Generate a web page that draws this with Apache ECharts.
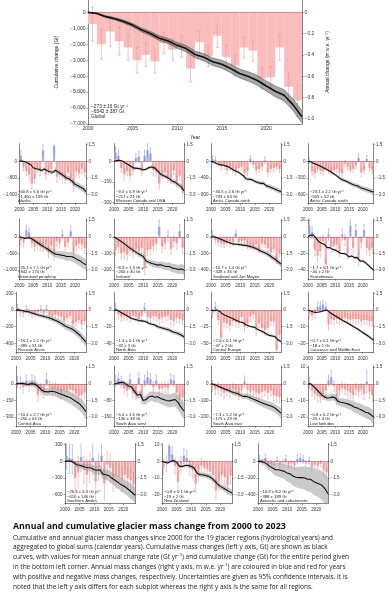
<!DOCTYPE html>
<html><head><meta charset="utf-8">
<script src="https://cdn.jsdelivr.net/npm/echarts@6/dist/echarts.min.js"></script>
<style>html,body{margin:0;padding:0;background:#fff}#c{width:388px;height:593px}</style>
</head><body><div id="c"></div><script>
// ---------------- DATA ----------------
const years = [2000,2001,2002,2003,2004,2005,2006,2007,2008,2009,2010,2011,2012,2013,2014,2015,2016,2017,2018,2019,2020,2021,2022,2023];
const cumYears = [2000,2001,2002,2003,2004,2005,2006,2007,2008,2009,2010,2011,2012,2013,2014,2015,2016,2017,2018,2019,2020,2021,2022,2023,2024];
const xTickYears = [2000,2005,2010,2015,2020];
const rightTicks = [1.5,0,-1.5,-3.0];
const globalLeftTicks = [0,-1000,-2000,-3000,-4000,-5000,-6000,-7000];
const globalRightTicks = [0,-0.2,-0.4,-0.6,-0.8,-1.0];

const globalBars = [-0.11,-0.30,-0.18,-0.27,-0.33,-0.45,-0.40,-0.46,-0.29,-0.35,-0.32,-0.53,-0.28,-0.41,-0.22,-0.42,-0.50,-0.33,-0.36,-0.62,-0.61,-0.33,-0.70,-0.83];
const globalErr = [0.16,0.14,0.14,0.13,0.12,0.12,0.11,0.11,0.10,0.10,0.10,0.12,0.10,0.10,0.11,0.11,0.10,0.10,0.10,0.10,0.10,0.12,0.13,0.15];
const globalCum = [0,-70,-270,-400,-580,-800,-1100,-1330,-1620,-1800,-2070,-2270,-2640,-2820,-3100,-3250,-3520,-3830,-4020,-4270,-4620,-4950,-5200,-5800,-6542];
const globalBand = [0,30,50,70,88,105,120,135,150,165,180,195,210,224,238,252,266,280,294,308,322,337,352,370,387];
const globalTexts = ['\u2212273 \u00b1 16 Gt yr\u207b\u00b9','\u22126542 \u00b1 387 Gt','Global'];

const regionNames = ['Alaska','Western Canada and USA','Arctic Canada north','Arctic Canada south',
 'Greenland periphery','Iceland','Svalbard and Jan Mayen','Scandinavia',
 'Russian Arctic','North Asia','Central Europe','Caucasus and Middle East',
 'Central Asia','South Asia west','South Asia east','Low latitudes',
 'Southern Andes','New Zealand','Antarctic and subantarctic'];
const regionRates = ['\u221260.8 \u00b1 6.6','\u22129.0 \u00b1 0.9','\u221230.5 \u00b1 2.6','\u221223.1 \u00b1 2.1',
 '\u221235.1 \u00b1 7.1','\u22128.3 \u00b1 1.3','\u221213.7 \u00b1 1.4','\u22121.7 \u00b1 0.1',
 '\u221216.1 \u00b1 2.1','\u22121.3 \u00b1 0.1','\u22122.0 \u00b1 0.1','\u22120.7 \u00b1 0.1',
 '\u221210.4 \u00b1 2.7','\u22125.4 \u00b1 1.6','\u22127.3 \u00b1 1.2','\u22120.8 \u00b1 0.2',
 '\u221226.3 \u00b1 6.5','\u22120.8 \u00b1 0.1','\u221216.9 \u00b1 8.2'];
const regionTotals = ['\u22121,460 \u00b1 159','\u2212217 \u00b1 21','\u2212733 \u00b1 63','\u2212555 \u00b1 52',
 '\u2212842 \u00b1 170','\u2212200 \u00b1 30','\u2212328 \u00b1 35','\u221240 \u00b1 2',
 '\u2212385 \u00b1 51','\u221232 \u00b1 3','\u221247 \u00b1 2','\u221218 \u00b1 1',
 '\u2212250 \u00b1 65','\u2212130 \u00b1 38','\u2212175 \u00b1 29','\u221220 \u00b1 4',
 '\u2212610 \u00b1 146','\u221219 \u00b1 2','\u2212388 \u00b1 189'];
const regionLeftTicks = [[0,-800,-1600],[0,-150,-300],[0,-400,-800],[0,-300,-600],
 [0,-500,-1000],[0,-100,-200],[0,-200,-400],[20,0,-20,-40],
 [200,0,-200,-400],[0,-20,-40],[0,-25,-50],[0,-10,-20],
 [0,-150,-300],[0,-80,-160],[0,-100,-200],[10,0,-10,-20],
 [300,0,-300,-600],[10,0,-10,-20],[0,-200,-400]];

const alaskaBars = [0.5,-0.5,-0.9,-1.2,-2.0,-1.6,-0.6,-0.9,1.0,-1.2,-0.8,-0.7,1.4,-1.4,-1.2,-1.4,-1.6,-1.0,-1.5,-2.2,-0.9,-1.1,-0.7,-1.0];
const alaskaErr = [0.5,0.4,0.4,0.5,0.5,0.4,0.4,0.4,0.5,0.4,0.4,0.4,0.6,0.5,0.4,0.4,0.4,0.4,0.4,0.5,0.4,0.4,0.4,0.4];
const alaskaCum = [0,10,-20,-80,-150,-310,-360,-380,-440,-370,-450,-500,-530,-430,-520,-610,-700,-800,-850,-950,-1100,-1160,-1250,-1310,-1460];
const alaskaBand = [0,15,25,35,42,50,57,63,70,75,80,86,92,97,102,108,114,119,125,131,137,142,148,153,159];

const wcanBars = [0.8,0.5,-0.6,-1.2,-0.9,-1.3,-0.8,0.3,0.4,-0.9,0.5,1.0,0.7,-0.8,-1.0,-2.0,-1.2,-1.0,-1.4,-1.6,-0.8,-1.8,-1.3,-2.6];
const wcanErr = [0.5,0.5,0.4,0.5,0.4,0.5,0.4,0.4,0.5,0.4,0.5,0.6,0.5,0.5,0.4,0.5,0.4,0.4,0.5,0.4,0.4,0.5,0.4,0.5];
const wcanCum = [0,5,8,0,-15,-25,-40,-50,-52,-55,-62,-58,-45,-42,-50,-70,-95,-105,-115,-128,-145,-152,-170,-185,-217];
const wcanBand = [0,2,3,4,5,6,7,8,8,9,10,11,11,12,13,14,14,15,16,17,17,18,19,20,21];

const acnBars = [0.2,0.1,-0.3,-0.5,-0.4,-0.8,-0.5,-0.7,-0.9,-0.6,-0.5,-1.1,-0.9,0.2,-0.3,-0.8,-0.7,-0.5,0.1,-1.0,-0.7,-0.6,-0.5,-0.7];
const acnErr = [0.3,0.3,0.25,0.3,0.3,0.35,0.3,0.3,0.35,0.3,0.3,0.35,0.35,0.3,0.3,0.3,0.3,0.3,0.3,0.35,0.3,0.3,0.3,0.3];
const acnCum = [0,-20,-60,-80,-90,-110,-130,-180,-220,-250,-290,-340,-420,-430,-440,-480,-510,-530,-530,-590,-610,-640,-670,-700,-733];
const acnBand = [0,6,10,13,16,19,22,24,27,29,31,33,36,38,40,42,44,46,48,51,53,55,58,60,63];

const acsBars = [0.1,-0.9,-1.1,-0.7,-0.8,-0.9,-0.6,-0.8,-0.9,-0.8,-0.7,-1.0,-1.1,-0.2,-0.5,-0.8,-0.7,-0.4,0.3,-1.0,-0.8,0.2,-0.6,-0.8];
const acsErr = [0.3,0.35,0.35,0.3,0.3,0.3,0.3,0.3,0.3,0.3,0.3,0.35,0.35,0.3,0.3,0.3,0.3,0.3,0.35,0.35,0.3,0.3,0.3,0.3];
const acsCum = [0,-10,-35,-55,-75,-100,-125,-150,-180,-210,-245,-280,-320,-340,-360,-385,-410,-430,-440,-470,-490,-505,-520,-540,-555];
const acsBand = [0,5,8,11,13,16,18,20,22,24,26,28,30,31,33,35,37,39,40,42,44,46,48,50,52];

const greenBars = [-0.3,-0.5,0.6,0.4,-0.6,-0.9,-0.7,-0.8,-0.9,-0.7,-1.4,-0.8,-1.6,-0.4,-0.6,0.2,-0.9,-0.5,0.5,-1.4,-0.8,-0.6,-0.7,-1.0];
const greenErr = [0.4,0.4,0.45,0.4,0.4,0.4,0.4,0.45,0.4,0.4,0.5,0.4,0.5,0.4,0.4,0.4,0.4,0.4,0.45,0.5,0.4,0.4,0.4,0.5];
const greenCum = [0,-20,-50,-30,-40,-90,-150,-200,-260,-310,-360,-420,-480,-520,-530,-550,-560,-590,-590,-600,-640,-690,-730,-790,-842];
const greenBand = [0,15,25,35,45,52,60,67,73,80,86,92,98,104,110,116,122,128,134,140,146,152,158,164,170];

const icelandBars = [-1.2,-0.9,-1.5,-1.4,-1.6,-1.2,-1.4,-1.1,-1.3,-1.0,-2.8,-1.2,-1.1,-0.8,-0.6,0.9,-0.9,-0.6,0.1,-1.1,-0.4,-0.6,0.5,-1.0];
const icelandErr = [0.5,0.5,0.5,0.55,0.5,0.5,0.5,0.5,0.5,0.5,0.6,0.5,0.5,0.5,0.5,0.6,0.5,0.5,0.5,0.5,0.5,0.5,0.6,0.5];
const icelandCum = [0,-12,-22,-35,-48,-62,-74,-86,-98,-108,-118,-145,-153,-160,-165,-170,-168,-174,-178,-178,-188,-190,-196,-193,-200];
const icelandBand = [0,3,5,6,8,9,11,12,13,14,15,16,17,18,19,20,21,22,23,24,25,26,27,29,30];

const svalBars = [0.2,-0.3,-0.5,-0.6,-0.7,-0.5,-0.6,-0.5,0.3,-0.5,-0.4,-0.3,-0.7,-0.8,-0.9,-0.7,-1.1,-0.6,-0.7,-1.0,-1.4,-1.1,-2.0,-1.5];
const svalErr = [0.3,0.3,0.3,0.3,0.3,0.3,0.3,0.3,0.3,0.3,0.3,0.3,0.35,0.3,0.3,0.3,0.35,0.3,0.3,0.35,0.35,0.3,0.4,0.35];
const svalCum = [0,0,-10,-25,-40,-55,-68,-80,-88,-90,-95,-100,-105,-112,-122,-135,-150,-170,-185,-200,-222,-248,-270,-300,-328];
const svalBand = [0,3,5,7,8,10,11,13,14,15,17,18,19,20,22,23,24,25,27,28,29,31,32,34,35];

const scandBars = [1.0,0.4,-1.2,-1.7,-1.3,-0.4,-2.5,0.2,-0.9,-0.8,-0.7,-1.3,0.2,-0.3,-1.5,1.0,-1.0,0.6,-2.0,-0.5,0.6,-1.0,-1.2,-1.0];
const scandErr = [0.5,0.5,0.5,0.5,0.5,0.5,0.6,0.5,0.5,0.5,0.5,0.5,0.5,0.5,0.5,0.5,0.5,0.5,0.6,0.5,0.5,0.5,0.5,0.5];
const scandCum = [0,2,2,-2,-6,-8,-9,-13,-13,-15,-16,-18,-20,-20,-21,-24,-23,-25,-25,-29,-29,-31,-34,-37,-40];
const scandBand = [0,0.3,0.4,0.5,0.6,0.7,0.8,0.9,1,1,1.1,1.2,1.2,1.3,1.4,1.4,1.5,1.6,1.6,1.7,1.8,1.8,1.9,2,2];

const rusBars = [0.2,-0.2,-0.3,0.1,-0.2,-0.4,-0.3,-0.2,0.1,-0.3,0.1,-0.5,-0.6,-0.4,-0.5,-0.6,-1.0,-0.7,-0.5,-1.3,-1.1,-0.9,-1.3,-1.0];
const rusErr = [0.3,0.3,0.3,0.3,0.3,0.3,0.3,0.3,0.3,0.3,0.3,0.3,0.3,0.3,0.3,0.3,0.35,0.3,0.3,0.35,0.35,0.3,0.35,0.3];
const rusCum = [0,2,-5,-15,-18,-28,-40,-52,-62,-70,-80,-88,-100,-115,-130,-150,-170,-195,-210,-225,-245,-275,-305,-345,-385];
const rusBand = [0,5,8,11,13,15,17,19,21,23,25,27,29,30,32,34,36,38,40,42,44,46,48,49,51];

const nasiaBars = [0.2,-0.4,-0.6,-0.5,-0.5,-0.7,-0.5,-0.6,-0.8,-0.5,0.2,-0.6,-0.7,-0.5,-0.6,-0.8,-0.7,-0.6,-0.5,-0.9,-1.0,-0.7,-0.8,-0.9];
const nasiaErr = [0.4,0.4,0.4,0.4,0.4,0.4,0.4,0.4,0.45,0.4,0.4,0.4,0.4,0.4,0.4,0.45,0.4,0.4,0.4,0.45,0.45,0.4,0.4,0.45];
const nasiaCum = [0,0,-2,-4,-6,-8,-10,-11,-12,-13,-13,-14,-16,-17,-18,-20,-21,-22,-23,-24,-26,-27,-28,-30,-32];
const nasiaBand = [0,0.3,0.5,0.7,0.8,1,1.1,1.2,1.3,1.4,1.5,1.6,1.7,1.8,1.9,2,2.1,2.2,2.3,2.4,2.5,2.6,2.7,2.9,3];

const ceurBars = [-0.3,0.3,-0.9,-2.5,-1.1,-1.2,-1.4,-1.0,-1.1,-1.2,-0.6,-1.5,-1.2,-0.6,-0.4,-1.8,-1.2,-1.6,-1.8,-1.6,-1.0,-1.0,-3.6,-2.2];
const ceurErr = [0.4,0.4,0.4,0.5,0.4,0.4,0.45,0.4,0.4,0.4,0.4,0.45,0.4,0.4,0.4,0.45,0.4,0.45,0.45,0.45,0.4,0.4,0.5,0.45];
const ceurCum = [0,-1,0,-2,-6,-8,-10,-12,-14,-16,-18,-19,-22,-24,-25,-26,-29,-31,-33,-36,-38,-39,-40,-45,-47];
const ceurBand = [0,0.3,0.4,0.5,0.6,0.7,0.8,0.9,1,1,1.1,1.2,1.2,1.3,1.4,1.4,1.5,1.6,1.6,1.7,1.8,1.8,1.9,2,2];

const caucBars = [-0.4,-0.5,-0.3,0.3,0.4,0.5,0.3,-1.3,-0.8,-0.9,-0.8,-0.9,-0.8,-0.7,-0.8,-0.9,-0.8,-0.8,-0.8,-1.0,-0.9,-0.9,-1.0,-1.0];
const caucErr = [0.4,0.4,0.4,0.4,0.4,0.4,0.4,0.45,0.4,0.4,0.4,0.4,0.4,0.4,0.4,0.4,0.4,0.4,0.4,0.45,0.4,0.4,0.4,0.4];
const caucCum = [0,-0.5,-1.2,-1.5,-1.2,-0.8,-0.3,0,-1.5,-2.5,-3.5,-4.5,-5.5,-6.5,-7.3,-8.3,-9.3,-10.3,-11.2,-12.3,-13.5,-14.5,-15.6,-16.8,-18.0];
const caucBand = [0,0.1,0.2,0.25,0.3,0.35,0.4,0.45,0.5,0.5,0.55,0.6,0.6,0.65,0.7,0.7,0.75,0.8,0.8,0.85,0.9,0.9,0.95,1,1];

const casiaBars = [0.2,0.1,-0.3,0.3,-0.2,0.3,0.2,-1.0,-0.5,-0.8,0.4,-0.3,-0.5,-0.4,-0.6,-0.8,-0.6,-0.7,-0.5,-0.6,-0.9,-1.1,-1.0,-0.8];
const casiaErr = [0.5,0.5,0.5,0.5,0.5,0.5,0.5,0.55,0.5,0.5,0.55,0.5,0.5,0.5,0.5,0.5,0.5,0.5,0.5,0.5,0.5,0.55,0.5,0.5];
const casiaCum = [0,3,5,0,-5,0,0,-10,-35,-60,-70,-72,-66,-68,-78,-88,-98,-110,-118,-130,-150,-165,-185,-215,-250];
const casiaBand = [0,7,11,15,18,21,24,27,30,32,34,36,38,41,43,45,47,49,51,54,56,58,61,63,65];

const saswBars = [0.3,0.5,0.2,-0.4,-0.6,0.4,-0.8,-0.9,0.5,-1.2,0.3,0.6,0.4,-0.3,0.3,-0.5,-0.4,-0.3,-0.4,0.4,0.3,-0.8,-1.5,-1.2];
const saswErr = [0.5,0.5,0.5,0.5,0.5,0.5,0.5,0.55,0.5,0.55,0.5,0.5,0.5,0.5,0.5,0.5,0.5,0.5,0.5,0.5,0.5,0.5,0.6,0.55];
const saswCum = [0,2,6,8,0,-10,-15,-35,-55,-50,-80,-75,-62,-58,-64,-62,-70,-75,-80,-82,-78,-75,-90,-112,-130];
const saswBand = [0,5,8,10,11,13,14,16,17,18,20,21,22,23,25,26,27,28,30,31,32,34,35,37,38];

const saseBars = [-0.2,-0.5,-0.4,-0.6,-0.8,-0.6,-0.7,-0.5,-0.6,-0.9,-0.6,0.2,-0.5,-0.7,-0.6,-0.8,-0.9,-0.7,-0.6,-0.8,-0.6,-1.0,-1.1,-1.2];
const saseErr = [0.5,0.5,0.5,0.5,0.5,0.5,0.5,0.5,0.5,0.5,0.5,0.5,0.5,0.5,0.5,0.5,0.5,0.5,0.5,0.5,0.5,0.5,0.55,0.55];
const saseCum = [0,-3,-10,-18,-25,-33,-40,-47,-53,-58,-66,-75,-74,-80,-88,-95,-102,-110,-118,-124,-130,-136,-146,-160,-175];
const saseBand = [0,3,5,6,8,9,11,12,13,14,15,16,17,18,19,20,21,22,23,24,25,26,27,28,29];

const lowlatBars = [0.1,-0.6,-0.9,-1.1,-1.2,-0.9,-0.6,0.3,0.6,-0.2,-1.4,-0.6,-0.4,-0.5,-0.6,-0.8,-1.0,-0.5,-0.7,-0.5,-0.9,0.2,-0.7,-1.0];
const lowlatErr = [0.5,0.5,0.5,0.5,0.5,0.5,0.5,0.5,0.6,0.5,0.5,0.5,0.5,0.5,0.5,0.5,0.5,0.5,0.5,0.5,0.5,1.0,0.6,0.6];
const lowlatCum = [0,0,-1.5,-3,-5,-6.5,-7.8,-8.5,-8.3,-7.8,-8.5,-10.5,-11.0,-11.3,-11.8,-12.3,-13,-14,-14.5,-15.3,-16,-17,-17.3,-18.5,-20];
const lowlatBand = [0,0.5,0.8,1,1.2,1.4,1.6,1.8,2,2.1,2.2,2.4,2.5,2.6,2.8,2.9,3,3.1,3.3,3.4,3.5,3.6,3.8,3.9,4];

const sandesBars = [0.5,0.3,0.2,-1.5,-1.0,0.4,-0.8,-1.2,-0.6,0.3,-1.8,-0.5,0.5,-2.0,-0.3,-0.6,-1.5,-1.3,-1.4,-1.6,-1.2,-1.5,-1.7,-2.1];
const sandesErr = [1.2,1.4,1.3,1.5,1.4,1.3,1.2,1.4,1.3,1.5,1.6,1.2,1.6,1.5,1.2,1.3,1.2,1.1,1.0,1.1,1.0,1.0,1.0,1.1];
const sandesCum = [0,5,5,-20,-60,-70,-85,-105,-115,-120,-150,-160,-150,-230,-240,-255,-300,-335,-370,-410,-440,-475,-515,-560,-610];
const sandesBand = [0,14,23,31,38,45,51,57,63,68,73,78,84,89,94,99,104,109,114,119,124,130,135,141,146];

const nzBars = [-0.5,-0.2,1.4,0.6,-0.4,-1.8,-0.3,0.5,0.3,-0.6,-0.8,-2.0,-1.0,-0.4,-0.6,-0.7,-0.9,-1.2,-2.6,-1.8,-1.2,-1.4,-2.2,-1.3];
const nzErr = [0.7,0.7,0.9,0.7,0.7,0.8,0.7,0.7,0.7,0.7,0.7,0.8,0.7,0.7,0.7,0.7,0.7,0.7,0.8,0.8,0.7,0.7,0.8,0.7];
const nzCum = [0,-0.5,-1,0,0.5,-0.5,-3,-3,-2.5,-2.5,-3,-4,-7,-8,-8,-8.5,-9,-10,-11.5,-13.5,-15,-16,-17,-18,-19];
const nzBand = [0,0.3,0.4,0.5,0.6,0.7,0.8,0.9,1,1,1.1,1.2,1.2,1.3,1.4,1.4,1.5,1.6,1.6,1.7,1.8,1.8,1.9,2,2];

const antBars = [0.2,-0.1,0.3,-0.4,-0.2,-0.3,0.1,-0.3,-0.1,0.2,-0.3,-0.2,-0.4,0.2,0.3,0.2,-0.2,0.1,-0.5,-0.3,-0.4,-0.2,-0.8,-1.0];
const antErr = [0.35,0.3,0.35,0.35,0.3,0.3,0.3,0.3,0.3,0.35,0.3,0.3,0.35,0.35,0.35,0.35,0.3,0.3,0.35,0.3,0.3,0.3,0.4,0.4];
const antCum = [0,0,-10,-30,-60,-80,-100,-100,-110,-120,-140,-150,-175,-190,-195,-195,-200,-215,-215,-240,-255,-270,-290,-330,-388];
const antBand = [0,20,32,44,55,63,72,80,87,94,101,108,115,121,127,133,139,146,152,158,164,170,176,183,189];

const regionBars = [alaskaBars,wcanBars,acnBars,acsBars,greenBars,icelandBars,svalBars,scandBars,rusBars,nasiaBars,ceurBars,caucBars,casiaBars,saswBars,saseBars,lowlatBars,sandesBars,nzBars,antBars];
const regionErr = [alaskaErr,wcanErr,acnErr,acsErr,greenErr,icelandErr,svalErr,scandErr,rusErr,nasiaErr,ceurErr,caucErr,casiaErr,saswErr,saseErr,lowlatErr,sandesErr,nzErr,antErr];
const regionCum = [alaskaCum,wcanCum,acnCum,acsCum,greenCum,icelandCum,svalCum,scandCum,rusCum,nasiaCum,ceurCum,caucCum,casiaCum,saswCum,saseCum,lowlatCum,sandesCum,nzCum,antCum];
const regionBand = [alaskaBand,wcanBand,acnBand,acsBand,greenBand,icelandBand,svalBand,scandBand,rusBand,nasiaBand,ceurBand,caucBand,casiaBand,saswBand,saseBand,lowlatBand,sandesBand,nzBand,antBand];

const captionTitle = 'Annual and cumulative glacier mass change from 2000 to 2023';
const captionLines = [
 'Cumulative and annual glacier mass changes since 2000 for the 19 glacier regions (hydrological years) and',
 'aggregated to global sums (calendar years). Cumulative mass changes (left y axis, Gt) are shown as black',
 'curves, with values for mean annual change rate (Gt yr\u207b\u00b9) and cumulative change (Gt) for the entire period given',
 'in the bottom left corner. Annual mass changes (right y axis, m w.e. yr\u207b\u00b9) are coloured in blue and red for years',
 'with positive and negative mass changes, respectively. Uncertainties are given as 95% confidence intervals. It is',
 'noted that the left y axis differs for each subplot whereas the right y axis is the same for all regions.'];

// ---------------- LAYOUT / STYLE ----------------
const FONT = '"Liberation Sans", Arial, sans-serif';
const CAPFONT = '"Open Sans", "Liberation Sans", sans-serif';
const leftAxisScale = [533.3,81,266.7,200, 333.3,66.67,133.3,13.33, 133.3,13.33,16.67,6.667, 100,53.33,66.67,6.667, 200,6.667,133.3];
const RMIN = -3.8, RMAX = 1.6;
const colLeft = [16,114,211,308];
const lastRowLeft = [65,162,258];
const rowTop = [143.5,219,292.3,366.1,443.6];
const PW = 70, PH = 60;

const MINUS = '\u2212';
const fmtInt = v => v === 0 ? '0' : (v < 0 ? MINUS : '') + Math.abs(v).toLocaleString('en-US');
const fmtDec = v => v === 0 ? '0' : (v < 0 ? MINUS : '') + Math.abs(v).toFixed(1);

const grids = [], xAxes = [], yAxes = [], series = [], graphics = [];
const AX = '#333';

function barRenderer(gap, capFrac, lw) {
  return function (params, api) {
    const x = api.value(0), v = api.value(1), e = api.value(2);
    const pos = v >= 0;
    const a = api.coord([x + gap, 0]), b = api.coord([x + 1 - gap, v]);
    const t = api.coord([x + 0.5, v + e]), u = api.coord([x + 0.5, v - e]);
    const c0 = api.coord([x + 0.5 - capFrac, 0])[0], c1 = api.coord([x + 0.5 + capFrac, 0])[0];
    const fill = params.seriesName === 'g' ? '#f9bdbd' : (pos ? '#aab2ec' : '#f5abab');
    const stroke = params.seriesName === 'g' ? '#ec9a9a' : (pos ? '#6b78d6' : '#e47c7c');
    return {type: 'group', children: [
      {type: 'rect', shape: {x: a[0], y: Math.min(a[1], b[1]), width: b[0] - a[0], height: Math.abs(b[1] - a[1])}, style: {fill: fill}},
      {type: 'line', shape: {x1: t[0], y1: t[1], x2: u[0], y2: u[1]}, style: {stroke: stroke, lineWidth: lw}},
      {type: 'line', shape: {x1: c0, y1: t[1], x2: c1, y2: t[1]}, style: {stroke: stroke, lineWidth: lw}},
      {type: 'line', shape: {x1: c0, y1: u[1], x2: c1, y2: u[1]}, style: {stroke: stroke, lineWidth: lw}}
    ]};
  };
}
function bandRenderer(cum, band, fill, edge) {
  return function (params, api) {
    if (params.dataIndex !== 0) return null;
    const up = [], lo = [];
    for (let i = 0; i < cumYears.length; i++) {
      up.push(api.coord([cumYears[i], cum[i] + band[i]]));
      lo.push(api.coord([cumYears[i], cum[i] - band[i]]));
    }
    const children = [{type: 'polygon', shape: {points: up.concat(lo.slice().reverse())}, style: {fill: fill}}];
    if (edge) {
      children.push({type: 'polyline', shape: {points: up}, style: {stroke: edge, lineWidth: 0.5, fill: null}});
      children.push({type: 'polyline', shape: {points: lo}, style: {stroke: edge, lineWidth: 0.5, fill: null}});
    }
    return {type: 'group', children: children};
  };
}

function addPanel(k, box, cfg) {
  grids.push({left: box.left, top: box.top, width: box.width, height: box.height, containLabel: false});
  xAxes.push({type: 'value', gridIndex: k, min: 2000, max: 2024,
    name: cfg.xName || '', nameLocation: 'middle', nameGap: 11,
    nameTextStyle: {fontSize: 5, color: '#222', fontFamily: FONT},
    axisLine: {show: true, onZero: false, lineStyle: {color: AX, width: 0.6}},
    axisTick: {show: true, length: 1.5, lineStyle: {color: AX, width: 0.5}, customValues: xTickYears},
    axisLabel: {fontSize: cfg.fs, color: '#333', fontFamily: FONT, margin: cfg.global ? 2.5 : 4, customValues: xTickYears, formatter: v => String(v)},
    splitLine: {show: false}});
  yAxes.push({type: 'value', gridIndex: k, position: 'left', min: cfg.lmin, max: cfg.lmax,
    name: cfg.lName || '', nameLocation: 'middle', nameGap: 20, nameRotate: 90,
    nameTextStyle: {fontSize: 5, color: '#222', fontFamily: FONT},
    axisLine: {show: true, onZero: false, lineStyle: {color: AX, width: 0.6}},
    axisTick: {show: true, length: 1.5, lineStyle: {color: AX, width: 0.5}, customValues: cfg.lticks},
    axisLabel: {fontSize: cfg.fs, color: '#333', fontFamily: FONT, margin: 2.5, customValues: cfg.lticks, formatter: fmtInt},
    splitLine: {show: false}});
  yAxes.push({type: 'value', gridIndex: k, position: 'right', min: cfg.rmin, max: cfg.rmax,
    name: cfg.rName || '', nameLocation: 'middle', nameGap: 17, nameRotate: 90,
    nameTextStyle: {fontSize: 5, color: '#222', fontFamily: FONT},
    axisLine: {show: true, onZero: false, lineStyle: {color: AX, width: 0.6}},
    axisTick: {show: true, length: 1.5, lineStyle: {color: AX, width: 0.5}, customValues: cfg.rticks},
    axisLabel: {fontSize: cfg.fs, color: '#333', fontFamily: FONT, margin: 2.5, customValues: cfg.rticks, formatter: cfg.rfmt},
    splitLine: {show: false}});
  const li = 2 * k, ri = 2 * k + 1;
  series.push({type: 'custom', name: cfg.global ? 'g' : 'r', xAxisIndex: k, yAxisIndex: ri, clip: true, silent: true, z: 2,
    renderItem: barRenderer(cfg.global ? 0 : 0.09, cfg.global ? 0.18 : 0.22, cfg.global ? 0.6 : 0.45),
    encode: {x: 0, y: 1},
    data: years.map((y, i) => [y, cfg.bars[i], cfg.err[i]])});
  series.push({type: 'custom', xAxisIndex: k, yAxisIndex: li, clip: true, silent: true, z: 3,
    renderItem: bandRenderer(cfg.cum, cfg.band, cfg.global ? 'rgba(95,95,95,0.55)' : 'rgba(150,150,150,0.5)', cfg.global ? 'rgba(40,40,40,0.8)' : null),
    encode: {x: 0, y: 1},
    data: cumYears.map((y, i) => [y, cfg.cum[i]])});
  series.push({type: 'line', xAxisIndex: k, yAxisIndex: li, silent: true, z: 5, symbol: 'none',
    lineStyle: {color: '#111', width: cfg.global ? 1.6 : 1.1},
    data: cumYears.map((y, i) => [y, cfg.cum[i]]),
    markLine: {silent: true, symbol: 'none', label: {show: false}, animation: false,
      lineStyle: {color: '#b55a5a', width: 0.6, type: 'solid'}, data: [{yAxis: 0}]}});
  const tx = box.left + (cfg.global ? 3 : 2);
  cfg.texts.forEach((t, j) => {
    graphics.push({type: 'text', x: tx, y: cfg.textY[j], silent: true,
      style: {text: t, fontSize: cfg.tfs, fontFamily: FONT, fill: '#222', align: 'left', verticalAlign: 'middle'}});
  });
}

// Global panel
addPanel(0, {left: 88, top: 0, width: 214, height: 124}, {
  global: true, fs: 5, tfs: 4.8,
  lmin: -7000, lmax: 773, rmin: -1.05, rmax: 0.116,
  lticks: globalLeftTicks, rticks: globalRightTicks, rfmt: fmtDec,
  lName: 'Cumulative change (Gt)', rName: 'Annual change (m w.e. yr\u207b\u00b9)', xName: 'Year',
  bars: globalBars, err: globalErr, cum: globalCum, band: globalBand,
  texts: globalTexts, textY: [107, 112, 117]});

// Regional panels
for (let r = 0; r < 19; r++) {
  const row = Math.floor(r / 4), col = r % 4;
  const left = row < 4 ? colLeft[col] : lastRowLeft[col];
  const top = rowTop[row];
  const s = leftAxisScale[r];
  const T = top + 1.1;
  addPanel(r + 1, {left: left, top: top, width: PW, height: PH}, {
    global: false, fs: 4.5, tfs: 4.2,
    lmin: RMIN * s, lmax: RMAX * s, rmin: RMIN, rmax: RMAX,
    lticks: regionLeftTicks[r], rticks: rightTicks, rfmt: fmtDec,
    bars: regionBars[r], err: regionErr[r], cum: regionCum[r], band: regionBand[r],
    texts: [regionRates[r] + ' Gt yr\u207b\u00b9', regionTotals[r] + ' Gt', regionNames[r]],
    textY: [T + 47.5, T + 52, T + 56.5]});
}

// Caption
graphics.push({type: 'text', x: 13, y: 526, silent: true,
  style: {text: captionTitle, fontSize: 8.8, fontWeight: 'bold', fontFamily: CAPFONT, fill: '#111', align: 'left', verticalAlign: 'middle'}});
captionLines.forEach((t, j) => {
  graphics.push({type: 'text', x: 13, y: 537.7 + j * 9.85, silent: true,
    style: {text: t, fontSize: 6.5, fontFamily: CAPFONT, fill: '#222', align: 'left', verticalAlign: 'middle'}});
});

const chart = echarts.init(document.getElementById('c'), null, {renderer: 'canvas'});
chart.setOption({animation: false, backgroundColor: '#fff',
  grid: grids, xAxis: xAxes, yAxis: yAxes, series: series, graphic: graphics});
</script></body></html>
